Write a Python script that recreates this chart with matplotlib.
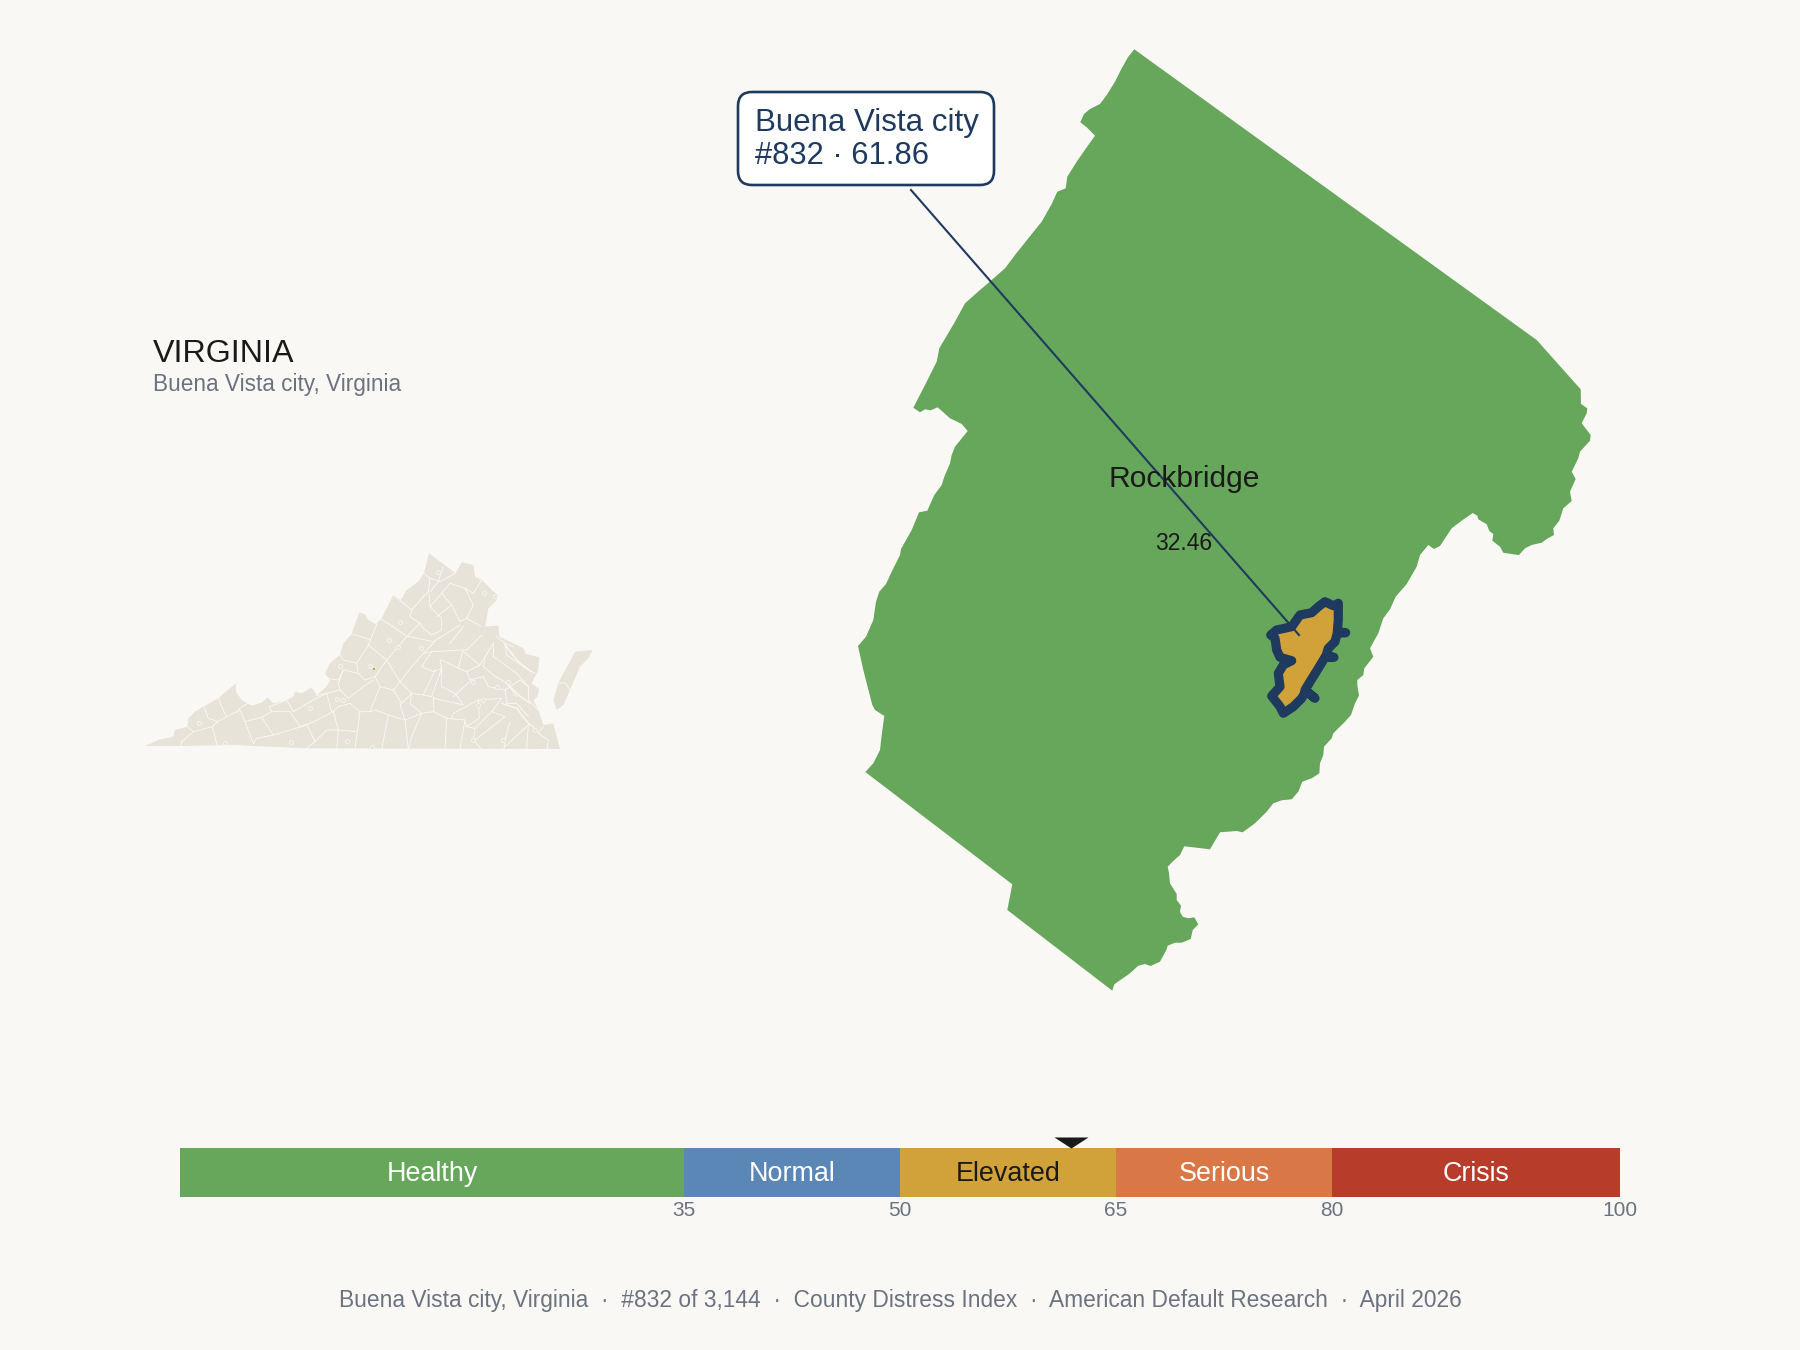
import matplotlib
matplotlib.use("Agg")
import matplotlib.pyplot as plt
from matplotlib.patches import FancyBboxPatch

BG = "#FAF8F5"
NAVY = "#1F3A5F"
GREY = "#6B7280"
INK = "#1A1A1A"
LAND = "#E8E3D8"
plt.rcParams["font.family"] = ["Liberation Sans", "DejaVu Sans"]

# ---- Score bands
band_edges = [0, 35, 50, 65, 80, 100]
band_names = ["Healthy", "Normal", "Elevated", "Serious", "Crisis"]
band_colors = ["#67A75B", "#5B87B7", "#D1A13A", "#D97746", "#B83C2A"]
band_text = ["white", "white", INK, "white", "white"]
tick_values = [35, 50, 65, 80, 100]
city_score = 61.86
county_score = 32.46

# ---- Rockbridge outline (map units)
rockbridge = [
    (1134.3,49.3),(1128.3,56.7),(1121.7,68.3),(1115,81.7),(1106.7,95),(1100,104),(1090,109),(1084,114),
    (1080.3,122.3),(1086.7,127.3),(1095,135.7),(1088.3,145),(1076.7,161.7),(1067.3,176.7),(1065.7,188.3),
    (1057.3,191.7),(1051.7,204),(1041.7,221.7),(1028.3,238.3),(1015,255),(1005,268.3),(991.7,280),(980,290),
    (965,303.3),(955,321.7),(939.3,348.3),(936.7,361.7),(925,385),(913.3,407.7),(920,412.3),(925,409.3),
    (930.7,410.3),(937.7,407.3),(950,418.3),(961.7,424),(967.7,431),(955,446.7),(951.7,455),(950,463.3),
    (944.3,476.7),(941.7,485),(934.3,495),(927.3,510.7),(919,512.3),(911.7,530),(901,549),(900,555),
    (891.7,571.7),(886,584),(879.3,591.7),(876,601.7),(873.3,620),(866,636.7),(858,646),(863.3,670),
    (872.3,705),(875,710),(884.3,716),(881.7,735),(880,750),(873.3,763.3),(865.3,772),(1012.3,884.3),
    (1007.3,910),(1112.3,990.7),(1114.3,984.3),(1130,973.3),(1138.3,965.7),(1145,964),(1150.7,966),
    (1160,961.7),(1166.7,949.3),(1167.7,945.7),(1175,942.7),(1181.7,942.7),(1190.7,939),(1192.7,930),
    (1198.3,924.3),(1194.3,917.3),(1188.3,918.3),(1182.7,916.7),(1180,911.7),(1181,905.7),(1176.7,900),
    (1176.7,894),(1170,883.3),(1169,873.3),(1167.7,866.7),(1173.3,861),(1180,855),(1184.3,846.3),(1210,849.3),
    (1220,832.3),(1236.7,831),(1242.7,832.3),(1255,823.3),(1266.7,811.7),(1273.3,803.3),(1281.7,800.3),
    (1291.7,799.3),(1298.3,791.7),(1302.3,781.7),(1311.7,778.3),(1319.3,773.3),(1320,763.3),(1323.3,755),
    (1324,746.7),(1331.7,738.3),(1333.3,733.3),(1345,721.7),(1351,715),(1355,703.3),(1359,695.7),
    (1357.3,685),(1357.3,680),(1363.3,675),(1364.3,668.3),(1373.3,656.7),(1370,648.3),(1378.3,633.3),
    (1383.3,618.3),(1390,609.3),(1395.7,596.7),(1406.7,584),(1416.7,566.7),(1420,555),(1428.3,545),
    (1434,549),(1440,546),(1451.7,528.3),(1461.7,520.7),(1472.7,513),(1477.3,515.7),(1478.3,519.3),
    (1486.7,524.3),(1489.3,531),(1493.3,534),(1492.3,540.7),(1500,546.7),(1503.3,552.7),(1513.3,554.3),
    (1519,555),(1525,548.3),(1531.7,545),(1541.7,542.7),(1546.7,539),(1554,535),(1553.3,528.3),(1559.3,520.7),
    (1563.3,508.3),(1571.7,501),(1570,491.7),(1575.7,479),(1571.7,471.7),(1578.3,458.3),(1580,451.7),
    (1590,440.7),(1590.7,435),(1581.7,423.3),(1586.7,413.3),(1587.3,408.3),(1581,404),(1580.7,389.3),
    (1536.7,340),
]

# ---- Buena Vista outline (map units)
buena_vista = [
    (1338.3,603.3),(1338.3,620),(1337.3,631.7),(1345.7,632.7),(1337.3,633.3),(1335,641.7),(1328.3,648.3),
    (1326,656),(1334,657.3),(1325,657.3),(1317.3,670),(1310,681.7),(1305,690),(1315,698.3),(1306,690.7),
    (1301.7,698.3),(1293.3,706.7),(1283.3,713.3),(1280,706.7),(1271.7,696),(1280,686.7),(1278.3,673.3),
    (1283.3,665),(1291.7,660.7),(1280,657.3),(1276.7,650),(1275,638.3),(1270.7,635),(1276.7,630),
    (1291.7,626.7),(1300,615),(1311.7,612.7),(1318.3,606.7),(1325,601.7),(1333.3,605.7),
]
leader_from = (911, 190)
leader_to = (1299, 635)

# ---- Virginia state map (inset map units)
va_main = [
    (45,648),(85,630),(130,620),(135,600),(172,590),(175,565),(195,545),(220,530),(265,505),(317,460),(318,485),
    (335,510),(352,520),(365,527),(395,518),(413,502),(430,520),(470,510),(490,500),(495,485),(515,490),(545,472),
    (560,497),(590,470),(600,450),(585,430),(600,400),(630,375),(640,340),(665,312),(680,270),(688,247),(705,253),
    (715,270),(738,283),(755,265),(790,195),(813,210),(830,180),(865,155),(882,130),(897,70),(977,130),(995,97),
    (1030,105),(1035,140),(1056,150),(1085,180),(1105,195),(1100,210),(1075,235),(1065,290),(1105,287),(1108,320),
    (1140,335),(1180,355),(1188,372),(1228,382),(1225,420),(1205,460),(1228,478),(1222,500),(1210,510),(1225,540),
    (1240,585),(1270,580),(1290,657),(530,655),(370,648),(320,645),(150,648),
]
va_shore = [
    (1388,360),(1335,365),(1325,385),(1300,430),(1285,460),(1270,510),(1280,540),(1300,525),(1320,480),(1350,410),(1375,385),
]
va_counties = [
    [(265,505),(275,530),(288,557)],
    [(222,530),(235,565),(262,575)],
    [(172,590),(190,605),(155,635),(152,648)],
    [(190,605),(247,590),(262,648)],
    [(247,590),(262,575),(310,550),(330,540),(345,575),(370,640)],
    [(352,520),(325,538)],
    [(345,575),(395,562),(430,615)],
    [(395,562),(425,545),(480,545),(510,590),(530,582),(555,635),(530,655)],
    [(425,545),(418,530),(470,510)],
    [(470,510),(490,545)],
    [(370,640),(380,625),(430,615),(530,585),(610,545),(625,530),(660,520)],
    [(490,545),(550,510),(590,490),(605,545)],
    [(560,497),(590,490),(630,480),(655,505),(700,470),(730,450)],
    [(610,545),(625,600),(680,605)],
    [(660,520),(690,545),(675,657)],
    [(625,600),(620,657)],
    [(555,635),(590,600),(625,600)],
    [(590,445),(625,450),(640,420),(685,430)],
    [(630,375),(640,390),(680,400)],
    [(640,420),(625,460),(630,480)],
    [(665,312),(710,325),(720,330)],
    [(740,283),(715,345),(680,400),(685,430),(705,450),(735,440),(770,390)],
    [(715,345),(770,390),(830,320)],
    [(755,268),(830,318),(910,335)],
    [(790,195),(845,240),(880,200)],
    [(845,240),(840,260),(870,280),(830,320)],
    [(882,130),(900,145),(895,185),(880,200)],
    [(897,190),(900,230),(935,265),(935,300),(905,315),(880,295),(870,280)],
    [(900,145),(930,155),(975,130)],
    [(925,155),(940,110)],
    [(900,185),(925,155)],
    [(960,160),(1005,175),(1030,225),(1010,265),(1055,290)],
    [(960,160),(935,190),(900,230)],
    [(1055,150),(1030,190),(1005,175)],
    [(965,225),(920,260)],
    [(935,190),(965,225),(990,275),(1010,265)],
    [(990,285),(950,310),(910,335)],
    [(1000,290),(960,340)],
    [(770,390),(810,455),(845,410),(880,370),(915,335)],
    [(880,370),(905,365),(995,360),(1010,360),(1055,315)],
    [(905,365),(875,410),(910,425),(935,415),(930,390)],
    [(935,390),(985,415),(997,365)],
    [(985,415),(1010,425),(1050,405),(1000,365)],
    [(1050,405),(1090,340)],
    [(1090,340),(1090,380),(1125,405),(1160,430),(1195,470)],
    [(1125,340),(1130,375),(1180,410),(1215,430)],
    [(1065,390),(1060,410),(1090,435),(1130,460),(1160,500)],
    [(1010,425),(1020,450),(1060,440),(1075,470),(1125,480),(1130,520)],
    [(810,455),(845,490),(880,495),(915,420)],
    [(880,495),(905,500),(935,415)],
    [(735,440),(750,470),(790,480),(810,455)],
    [(790,480),(815,520),(845,490)],
    [(750,470),(720,545),(690,545)],
    [(720,545),(735,540),(775,555),(825,570),(810,525),(815,520)],
    [(775,555),(755,657)],
    [(825,570),(835,657)],
    [(825,570),(875,550),(845,620),(835,657)],
    [(845,490),(840,520),(875,550)],
    [(875,550),(910,545),(950,565),(945,657)],
    [(910,500),(912,545)],
    [(912,505),(1000,525),(975,490),(935,470),(935,415)],
    [(970,500),(1025,450)],
    [(950,565),(1005,570),(990,657)],
    [(970,550),(965,565)],
    [(1005,570),(1010,590),(1035,595),(1030,630),(1055,657)],
    [(970,550),(1045,510),(1048,565),(1010,590)],
    [(1045,510),(1115,505),(1085,545),(1035,595)],
    [(1085,545),(1125,560),(1035,630)],
    [(1140,575),(1125,630),(1122,657)],
    [(1200,580),(1125,650)],
    [(1195,585),(1190,657)],
    [(1240,590),(1225,610),(1255,630),(1252,657)],
    [(1125,480),(1170,450),(1195,470),(1195,510),(1225,540)],
    [(1130,520),(1160,520),(1195,560)],
    [(1285,460),(1305,458),(1320,480)],
    [(1100,320),(1125,340),(1150,350)],
]
va_inlets = [
    [(1115,520),(1160,535),(1195,580),(1212,592)],
    [(1125,345),(1165,395),(1203,425)],
    [(1130,460),(1165,495),(1200,520)],
]
va_city_x = [923,1062,1095,810,778,805,872,630,720,208,650,620,640,540,482,725,1045,1030,1120,1215,285,1030,1060,1135,1100]
va_city_y = [125,190,197,275,330,350,355,408,407,580,632,508,510,535,635,650,525,630,630,600,640,455,510,455,470]
va_highlight = (733, 417)

# ---- Texts
state_name = "VIRGINIA"
subtitle = "Buena Vista city, Virginia"
callout = ["Buena Vista city", "#832 · 61.86"]
county_name = "Rockbridge"
footer = "Buena Vista city, Virginia  ·  #832 of 3,144  ·  County Distress Index  ·  American Default Research  ·  April 2026"

W, H = 1800, 1350
fig = plt.figure(figsize=(W / 100, H / 100), dpi=100, facecolor=BG)

# State inset
ax_va = fig.add_axes([130 / W, 1 - 770 / H, 480 / W, 240 / H])
ax_va.set_xlim(0, 1440)
ax_va.set_ylim(720, 0)
ax_va.axis("off")
ax_va.fill(*zip(*va_main), color=LAND, lw=0)
ax_va.fill(*zip(*va_shore), color=LAND, lw=0)
for seg in va_inlets:
    ax_va.plot(*zip(*seg), color=BG, lw=1.0, solid_capstyle="round")
for seg in va_counties:
    ax_va.plot(*zip(*seg), color="#FBFAF7", lw=0.6, solid_joinstyle="round")
ax_va.scatter(va_city_x, va_city_y, s=8, facecolor=LAND, edgecolor="#FBFAF7", linewidth=0.5, zorder=3)
ax_va.scatter([va_highlight[0]], [va_highlight[1]], s=2, marker="s", color=band_colors[2], lw=0, zorder=4)

# Main map
ax = fig.add_axes([0, 0, 1, 1])
ax.set_xlim(0, W)
ax.set_ylim(H, 0)
ax.axis("off")
ax.patch.set_alpha(0)
ax.fill(*zip(*rockbridge), color=band_colors[0], lw=0, zorder=1)
ax.fill(*zip(*buena_vista), facecolor=band_colors[2], edgecolor=NAVY, lw=6.6, joinstyle="round", zorder=2)
ax.plot(*zip(leader_from, leader_to), color=NAVY, lw=1.5, zorder=3)
ax.text(1184, 479, county_name, ha="center", va="center", fontsize=21.6, color=INK, zorder=4)
ax.text(1184, 543, f"{county_score:.2f}", ha="center", va="center", fontsize=16.5, color=INK, zorder=4)
ax.add_patch(FancyBboxPatch((738, 92), 256, 93, boxstyle="round,pad=0,rounding_size=14",
                            facecolor="white", edgecolor=NAVY, lw=1.9, zorder=5))
ax.text(755, 123, callout[0], ha="left", va="center", fontsize=22.5, color=NAVY, zorder=6)
ax.text(755, 156, callout[1], ha="left", va="center", fontsize=22.2, color=NAVY, zorder=6)
ax.text(153, 353.5, state_name, ha="left", va="center", fontsize=23.2, color=INK)
ax.text(153, 385, subtitle, ha="left", va="center", fontsize=16.3, color=GREY)
ax.text(900, 1301, footer, ha="center", va="center", fontsize=16.4, color=GREY)

# Score bar
ax_bar = fig.add_axes([180 / W, 1 - 1197 / H, 1440 / W, 49 / H])
ax_bar.set_xlim(band_edges[0], band_edges[-1])
ax_bar.set_ylim(0, 1)
ax_bar.axis("off")
for i, name in enumerate(band_names):
    lo, hi = band_edges[i], band_edges[i + 1]
    ax_bar.barh(0.5, hi - lo, left=lo, height=1, color=band_colors[i], lw=0)
    ax_bar.text((lo + hi) / 2, 0.47, name, ha="center", va="center", fontsize=19.4, color=band_text[i])
for v in tick_values:
    ax_bar.text(v, -0.27, str(v), ha="center", va="center", fontsize=15, color=GREY, clip_on=False)
ax_bar.plot([city_score], [1], marker=[(-17, 11), (17, 11), (0, 0)], markersize=24.5, color=INK,
            markeredgewidth=0, clip_on=False, zorder=5)

fig.savefig("out.png", dpi=100, facecolor=BG)
